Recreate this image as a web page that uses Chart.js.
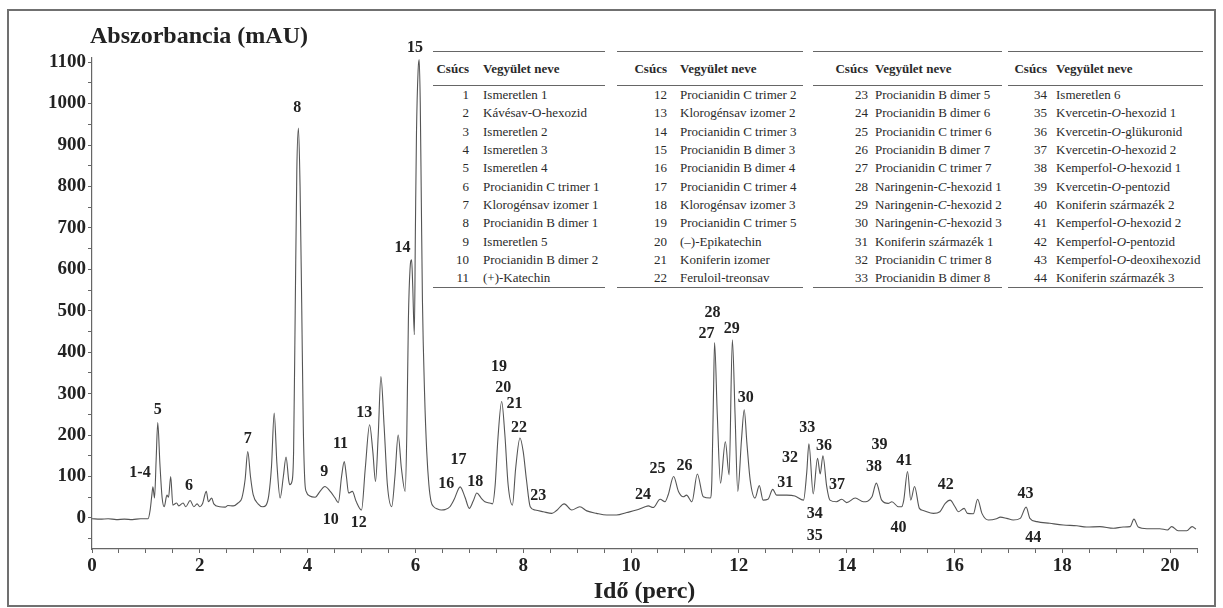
<!DOCTYPE html>
<html>
<head>
<meta charset="utf-8">
<script src="https://cdn.jsdelivr.net/npm/chart.js@4.4.1/dist/chart.umd.min.js"></script>
<style>
  body { margin: 0; background: #fff; }
  #wrap { position: relative; width: 1223px; height: 608px; }
  #frame { position: absolute; left: 7px; top: 9px; width: 1209px; height: 598px; border: 2px solid #707070; box-sizing: border-box; pointer-events: none; }
  .tbl { position: absolute; top: 51px; font-family: "Liberation Serif", serif; color: #2a2a2a; border-top: 1.5px solid #666; border-bottom: 1.5px solid #666; background: #fff; }
  .hdr { height: 33px; border-bottom: 1.5px solid #666; font-weight: bold; font-size: 13px; display: flex; align-items: center; }
  .row { height: 18.3px; display: flex; align-items: center; font-size: 13px; }
  .num { text-align: right; flex: none; }
  .name { flex: none; white-space: nowrap; }
</style>
</head>
<body>
<div id="wrap">
  <canvas id="chroma"></canvas>
  <div id="tables"></div>
  <div id="frame"></div>
</div>
<script>
// retention time (perc) and absorbance (mAU)
const times = [
  0.00, 0.15, 0.30, 0.45, 0.60, 0.75, 0.90, 1.04, 1.08, 1.11, 1.13, 1.16, 1.19, 1.22, 1.26, 1.30,
  1.34, 1.39, 1.42, 1.46, 1.50, 1.57, 1.61, 1.69, 1.74, 1.82, 1.89, 1.95, 2.00, 2.05, 2.12, 2.16,
  2.22, 2.26, 2.37, 2.47, 2.52, 2.62, 2.71, 2.78, 2.84, 2.89, 2.94, 2.99, 3.08, 3.17, 3.23, 3.28,
  3.33, 3.38, 3.43, 3.49, 3.55, 3.60, 3.65, 3.67, 3.71, 3.74, 3.77, 3.80, 3.83, 3.86, 3.89, 3.92,
  3.95, 3.98, 4.04, 4.14, 4.23, 4.32, 4.42, 4.51, 4.57, 4.63, 4.68, 4.72, 4.76, 4.83, 4.90, 5.00,
  5.07, 5.15, 5.21, 5.26, 5.31, 5.36, 5.42, 5.48, 5.56, 5.62, 5.68, 5.74, 5.81, 5.84, 5.87, 5.90,
  5.93, 5.95, 5.98, 6.00, 6.02, 6.05, 6.07, 6.09, 6.11, 6.13, 6.17, 6.21, 6.25, 6.29, 6.34, 6.40,
  6.48, 6.55, 6.64, 6.72, 6.83, 6.92, 7.00, 7.07, 7.14, 7.22, 7.29, 7.38, 7.43, 7.48, 7.53, 7.60,
  7.66, 7.72, 7.80, 7.86, 7.94, 8.00, 8.06, 8.13, 8.22, 8.37, 8.53, 8.62, 8.76, 8.90, 9.05, 9.18,
  9.36, 9.55, 9.73, 9.92, 10.10, 10.26, 10.32, 10.41, 10.54, 10.63, 10.69, 10.79, 10.88, 10.97, 11.03, 11.13,
  11.23, 11.34, 11.47, 11.50, 11.53, 11.55, 11.60, 11.66, 11.75, 11.82, 11.88, 11.93, 11.98, 12.05, 12.10, 12.15,
  12.21, 12.30, 12.38, 12.45, 12.54, 12.63, 12.70, 12.89, 13.04, 13.20, 13.26, 13.30, 13.38, 13.46, 13.51, 13.56,
  13.63, 13.69, 13.81, 13.91, 14.00, 14.16, 14.31, 14.47, 14.55, 14.65, 14.77, 14.84, 14.96, 15.02, 15.06, 15.13,
  15.19, 15.26, 15.35, 15.42, 15.61, 15.73, 15.83, 15.92, 16.01, 16.07, 16.18, 16.24, 16.35, 16.43, 16.51, 16.63,
  16.78, 16.85, 16.97, 17.09, 17.22, 17.33, 17.40, 17.53, 17.77, 18.02, 18.27, 18.45, 18.70, 18.95, 19.13, 19.26,
  19.33, 19.41, 19.57, 19.81, 19.95, 20.03, 20.15, 20.31, 20.41, 20.48
];
const absorbance = [
  -2, -3, -2, -4, -3, -4, -2, -2, 20, 55, 75, 48, 140, 230, 130, 50,
  27, 55, 50, 100, 31, 36, 29, 36, 27, 42, 27, 34, 27, 34, 64, 39,
  48, 34, 27, 26, 30, 29, 36, 48, 92, 160, 100, 56, 34, 27, 31, 55,
  124, 253, 132, 48, 100, 147, 90, 80, 88, 160, 500, 840, 941, 800, 520, 220,
  85, 62, 53, 50, 64, 76, 64, 48, 37, 100, 136, 100, 60, 64, 40, 19,
  120, 225, 160, 88, 200, 341, 220, 80, 27, 100, 200, 120, 64, 200, 480, 600,
  623, 560, 442, 700, 930, 1080, 1106, 1000, 760, 527, 300, 160, 80, 40, 27, 22,
  19, 20, 27, 45, 75, 50, 23, 40, 60, 48, 39, 36, 34, 80, 190, 281,
  200, 80, 31, 120, 193, 160, 92, 27, 19, 15, 11, 18, 34, 19, 27, 17,
  11, 7, 7, 13, 19, 27, 29, 25, 45, 39, 56, 100, 64, 51, 55, 39,
  106, 51, 48, 92, 300, 423, 250, 84, 184, 104, 430, 250, 64, 190, 261, 180,
  92, 48, 78, 43, 45, 69, 55, 55, 53, 43, 110, 179, 58, 144, 106, 150,
  76, 43, 39, 45, 37, 48, 39, 51, 84, 43, 35, 39, 27, 27, 43, 112,
  43, 76, 23, 18, 11, 15, 35, 43, 27, 15, 23, 11, 10, 45, 11, -5,
  -2, 2, -1, -5, -1, 26, -1, -9, -13, -17, -19, -22, -21, -25, -22, -21,
  -3, -22, -26, -26, -29, -21, -31, -31, -21, -27
];

// peak numbers and where they are written (time, mAU)
const peakLabels = ['1-4', '5', '6', '7', '8', '9', '10', '11', '12', '13', '14', '15', '16', '17', '18', '19', '20', '21', '22', '23',
  '24', '25', '26', '27', '28', '29', '30', '31', '32', '33', '34', '35', '36', '37', '38', '39', '40', '41', '42', '43', '44'];
const labelTimes = [0.89, 1.22, 1.80, 2.89, 3.81, 4.31, 4.43, 4.61, 4.95, 5.05, 5.76, 5.99, 6.57, 6.80, 7.11, 7.55, 7.63, 7.84, 7.92, 8.28,
  10.22, 10.49, 10.99, 11.40, 11.51, 11.87, 12.13, 12.86, 12.95, 13.27, 13.41, 13.41, 13.58, 13.82, 14.51, 14.61, 14.96, 15.07, 15.84, 17.32, 17.46];
const labelValues = [109, 262, 78, 192, 990, 112, -5, 178, -13, 253, 651, 1134, 82, 140, 88, 365, 313, 275, 217, 53,
  56, 118, 126, 444, 494, 456, 289, 84, 144, 217, 9, -43, 174, 81, 124, 176, -23, 138, 81, 58, -47];

const xTicks = [0, 0.5, 1, 1.5, 2, 2.5, 3, 3.5, 4, 4.5, 5, 5.5, 6, 6.5, 7, 7.5, 8, 8.5, 9, 9.5, 10, 10.5,
  11, 11.5, 12, 12.5, 13, 13.5, 14, 14.5, 15, 15.5, 16, 16.5, 17, 17.5, 18, 18.5, 19, 19.5, 20, 20.5];
const xTickLabels = [0, 2, 4, 6, 8, 10, 12, 14, 16, 18, 20];
const yTicks = [-50, 0, 50, 100, 150, 200, 250, 300, 350, 400, 450, 500, 550, 600, 650, 700, 750, 800, 850, 900, 950, 1000, 1050, 1100];
const yTickLabels = [0, 100, 200, 300, 400, 500, 600, 700, 800, 900, 1000, 1100];

// compound table
const compoundNames = [
  'Ismeretlen 1', 'Kávésav-O-hexozid', 'Ismeretlen 2', 'Ismeretlen 3', 'Ismeretlen 4', 'Procianidin C trimer 1',
  'Klorogénsav izomer 1', 'Procianidin B dimer 1', 'Ismeretlen 5', 'Procianidin B dimer 2', '(+)-Katechin',
  'Procianidin C trimer 2', 'Klorogénsav izomer 2', 'Procianidin C trimer 3', 'Procianidin B dimer 3', 'Procianidin B dimer 4',
  'Procianidin C trimer 4', 'Klorogénsav izomer 3', 'Procianidin C trimer 5', '(\u2013)-Epikatechin', 'Koniferin izomer', 'Feruloil-treonsav',
  'Procianidin B dimer 5', 'Procianidin B dimer 6', 'Procianidin C trimer 6', 'Procianidin B dimer 7', 'Procianidin C trimer 7',
  'Naringenin-<i>C</i>-hexozid 1', 'Naringenin-<i>C</i>-hexozid 2', 'Naringenin-<i>C</i>-hexozid 3', 'Koniferin származék 1',
  'Procianidin C trimer 8', 'Procianidin B dimer 8',
  'Ismeretlen 6', 'Kvercetin-<i>O</i>-hexozid 1', 'Kvercetin-<i>O</i>-glükuronid', 'Kvercetin-<i>O</i>-hexozid 2',
  'Kemperfol-<i>O</i>-hexozid 1', 'Kvercetin-<i>O</i>-pentozid', 'Koniferin származék 2', 'Kemperfol-<i>O</i>-hexozid 2',
  'Kemperfol-<i>O</i>-pentozid', 'Kemperfol-<i>O</i>-deoxihexozid', 'Koniferin származék 3'
];

// build the four table blocks
const blocks = [
  { left: 433, width: 172, numW: 36, gap: 14 },
  { left: 617, width: 186, numW: 50, gap: 13 },
  { left: 813, width: 189, numW: 55, gap: 7 },
  { left: 1008, width: 195, numW: 39, gap: 9 }
];
const tables = document.getElementById('tables');
blocks.forEach((b, k) => {
  let html = `<div class="tbl" style="left:${b.left}px;width:${b.width}px">`;
  html += `<div class="hdr"><span class="num" style="width:${b.numW}px">Csúcs</span><span class="name" style="padding-left:${b.gap}px">Vegyület neve</span></div>`;
  for (let i = k * 11; i < k * 11 + 11; i++) {
    html += `<div class="row"><span class="num" style="width:${b.numW}px">${i + 1}</span><span class="name" style="padding-left:${b.gap}px">${compoundNames[i]}</span></div>`;
  }
  html += '</div>';
  tables.innerHTML += html;
});

// peak numbers + y axis caption
const peakLabelPlugin = {
  id: 'peakLabels',
  afterDatasetsDraw(chart) {
    const { ctx, scales: { x, y } } = chart;
    ctx.save();
    ctx.fillStyle = '#222';
    ctx.font = 'bold 16px "Liberation Serif"';
    ctx.textAlign = 'center';
    ctx.textBaseline = 'middle';
    peakLabels.forEach((lab, i) => {
      ctx.fillText(lab, x.getPixelForValue(labelTimes[i]), y.getPixelForValue(labelValues[i]));
    });
    ctx.font = 'bold 24px "Liberation Serif"';
    ctx.textAlign = 'left';
    ctx.fillText('Abszorbancia (mAU)', 90, 37);
    ctx.restore();
  }
};

const tickFont = { family: 'Liberation Serif', size: 19, weight: 'bold' };

const chroma = new Chart(document.getElementById('chroma'), {
  type: 'line',
  data: {
    datasets: [{
      data: times.map((t, i) => ({ x: t, y: absorbance[i] })),
      borderColor: '#555',
      borderWidth: 1.1,
      pointRadius: 0,
      cubicInterpolationMode: 'monotone',
      fill: false
    }]
  },
  options: {
    responsive: true,
    maintainAspectRatio: false,
    animation: false,
    layout: { padding: { top: 58, right: 26, left: 0, bottom: 0 } },
    plugins: {
      legend: { display: false },
      tooltip: { enabled: false }
    },
    scales: {
      x: {
        type: 'linear',
        min: 0,
        max: 20.5,
        afterBuildTicks: s => { s.ticks = xTicks.map(v => ({ value: v })); },
        afterFit: s => { s.height = 59; },
        ticks: {
          autoSkip: false,
          maxRotation: 0,
          padding: 2,
          color: '#222',
          font: tickFont,
          callback: v => xTickLabels.includes(v) ? String(v) : ''
        },
        grid: { drawOnChartArea: false, tickLength: 4, color: '#666' },
        border: { color: '#666', width: 1.2 },
        title: {
          display: true,
          text: 'Idő (perc)',
          color: '#222',
          font: { family: 'Liberation Serif', size: 24, weight: 'bold' },
          padding: { top: 0, bottom: 2 }
        }
      },
      y: {
        min: -75,
        max: 1110,
        afterBuildTicks: s => { s.ticks = yTicks.map(v => ({ value: v })); },
        afterFit: s => { s.width = 92; },
        ticks: {
          autoSkip: false,
          padding: 2,
          color: '#222',
          font: tickFont,
          callback: v => yTickLabels.includes(v) ? String(v) : ''
        },
        grid: { drawOnChartArea: false, tickLength: 4, color: '#666' },
        border: { color: '#666', width: 1.2 }
      }
    }
  },
  plugins: [peakLabelPlugin]
});
</script>
</body>
</html>
